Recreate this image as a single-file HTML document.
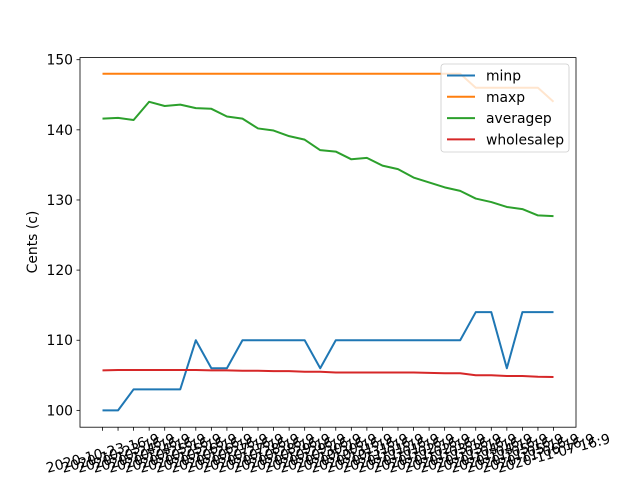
<!DOCTYPE html>
<html><head><meta charset="utf-8"><style>body{margin:0;background:#fff}svg{display:block;font-family:"DejaVu Sans","Liberation Sans",sans-serif}</style></head>
<body>
<svg id="chart" width="640" height="480" xmlns="http://www.w3.org/2000/svg"></svg>
<script>
const categories = ["2020-10-23 16:9","2020-10-23 16:9","2020-10-24 16:9","2020-10-24 16:9","2020-10-25 16:9","2020-10-25 16:9","2020-10-26 16:9","2020-10-26 16:9","2020-10-27 16:9","2020-10-27 16:9","2020-10-28 16:9","2020-10-28 16:9","2020-10-29 16:9","2020-10-29 16:9","2020-10-30 16:9","2020-10-30 16:9","2020-10-31 16:9","2020-10-31 16:9","2020-11-01 16:9","2020-11-01 16:9","2020-11-02 16:9","2020-11-02 16:9","2020-11-03 16:9","2020-11-03 16:9","2020-11-04 16:9","2020-11-04 16:9","2020-11-05 16:9","2020-11-05 16:9","2020-11-06 16:9","2020-11-07 16:9"];
const minp = [100,100,103,103,103,103,110,106,106,110,110,110,110,110,106,110,110,110,110,110,110,110,110,110,114,114,106,114,114,114];
const maxp = [148,148,148,148,148,148,148,148,148,148,148,148,148,148,148,148,148,148,148,148,148,148,148,148,146,146,146,146,146,144];
const averagep = [141.6,141.7,141.4,144.0,143.4,143.6,143.1,143.0,141.9,141.6,140.2,139.9,139.1,138.6,137.1,136.9,135.8,136.0,134.9,134.4,133.2,132.5,131.8,131.3,130.2,129.7,129.0,128.7,127.8,127.7];
const wholesalep = [105.7,105.75,105.75,105.75,105.75,105.75,105.75,105.7,105.7,105.65,105.65,105.6,105.6,105.5,105.5,105.4,105.4,105.4,105.4,105.4,105.4,105.35,105.3,105.3,105.0,105.0,104.9,104.9,104.8,104.75];
const yTicks = [100,110,120,130,140,150];

const svg = document.getElementById('chart');
const NS = "http://www.w3.org/2000/svg";
const L=80,R=576,T=57.6,B=427.2;
const yMin=97.6,yMax=150.3;
const n=categories.length;
const xS=i=>102.5+i*(553.5-102.5)/(n-1);
const yS=v=>B-(v-yMin)/(yMax-yMin)*(B-T);
function mk(tag,attrs,parent){const e=document.createElementNS(NS,tag);for(const k in attrs)e.setAttribute(k,attrs[k]);(parent||svg).appendChild(e);return e;}

const series=[["minp",minp,"#1f77b4"],["maxp",maxp,"#ff7f0e"],["averagep",averagep,"#2ca02c"],["wholesalep",wholesalep,"#d62728"]];
series.forEach(([name,vals,col])=>{
  const p=mk('polyline',{points:vals.map((v,i)=>xS(i)+','+yS(v)).join(' '),fill:'none',stroke:col,'stroke-width':2,'stroke-linejoin':'round'});
  
  
});
const frame=mk('rect',{x:L,y:T,width:R-L,height:B-T,fill:'none',stroke:'#000','stroke-width':0.8});



yTicks.forEach(v=>{
  const y=yS(v);
  mk('line',{x1:L-3.5,x2:L,y1:y,y2:y,stroke:'#000','stroke-width':0.8});
  const t=mk('text',{x:L-7,y:y+5,'text-anchor':'end','font-size':13.9});
  t.textContent=v;
  
  
});
categories.forEach((c,i)=>{
  const x=xS(i);
  mk('line',{x1:x,x2:x,y1:B,y2:B+3.5,stroke:'#000','stroke-width':0.8});
  const t=mk('text',{x:x,y:458,'text-anchor':'middle','font-size':13.9,transform:'rotate(-15 '+x+' 453)'});
  t.textContent=c;
  
  
});
const yt=mk('text',{x:37,y:242,'text-anchor':'middle','font-size':13.9,transform:'rotate(-90 37 242)'});
yt.textContent='Cents (c)';



const lg=mk('g',{});


mk('rect',{x:441,y:64,width:128,height:88,rx:3,fill:'#fff','fill-opacity':0.8,stroke:'#ccc','stroke-width':0.8},lg);
series.forEach(([name,vals,col],k)=>{
  const y=75.5+k*21.3;
  const g=mk('g',{},lg);
  
  
  mk('line',{x1:447,x2:475,y1:y,y2:y,stroke:col,'stroke-width':2},g);
  const t=mk('text',{x:486,y:y+5,'font-size':13.9},g);
  t.textContent=name;
});
</script>
</body></html>
